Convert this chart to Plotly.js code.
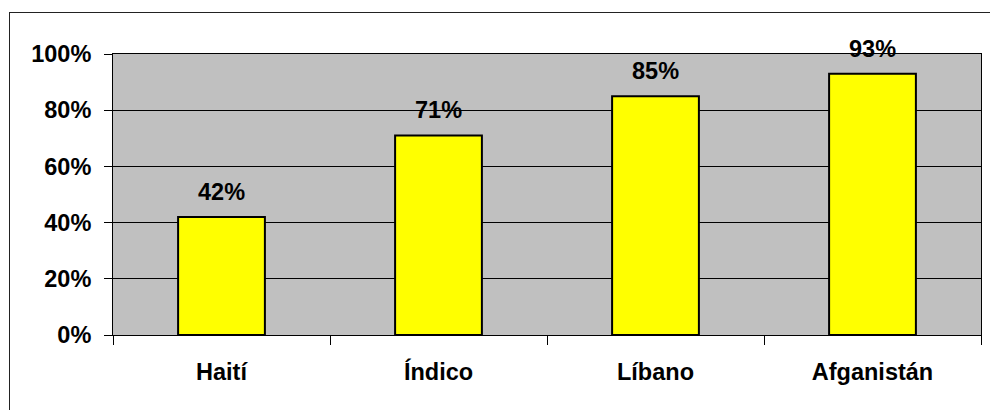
<!DOCTYPE html>
<html>
<head>
<meta charset="utf-8">
<script src="https://cdn.plot.ly/plotly-3.0.1.min.js"></script>
<style>
html,body{margin:0;padding:0;background:#fff;}
#wrap{position:relative;width:990px;height:410px;overflow:hidden;}
#chart{width:990px;height:410px;}
#frame{position:absolute;left:9px;top:12px;width:1000px;height:420px;border:1.5px solid #222;pointer-events:none;box-sizing:border-box;}
</style>
</head>
<body>
<div id="wrap"><div id="chart"></div><div id="frame"></div></div>
<script>
var categories = ["Haití", "Índico", "Líbano", "Afganistán"];
var values = [42, 71, 85, 93];
var labels = ["42%", "71%", "85%", "93%"];
var yTickVals = [0, 20, 40, 60, 80, 100];
var yTickText = ["0%", "20%", "40%", "60%", "80%", "100%"];

var font = {family: "Arial, 'Liberation Sans', sans-serif", size: 23.5, color: "#000"};

var trace = {
  type: "bar",
  x: categories,
  y: values,
  width: 0.4,
  marker: {color: "#ffff00", line: {color: "#000", width: 2}},
  hoverinfo: "none"
};

var annotations = categories.map(function(c, i){
  return {x: c, y: values[i], text: "<b>" + labels[i] + "</b>", showarrow: false,
          yanchor: "bottom", yshift: 10, font: font};
});

var layout = {
  width: 990, height: 410,
  margin: {l: 113, r: 9, t: 54, b: 75},
  paper_bgcolor: "#fff",
  plot_bgcolor: "#c0c0c0",
  showlegend: false,
  font: font,
  xaxis: {
    type: "category",
    tickson: "boundaries",
    ticks: "outside", ticklen: 9, tickcolor: "#000", tickwidth: 1,
    showline: true, linecolor: "#000", linewidth: 1, mirror: true,
    showgrid: false, zeroline: false,
    tickvals: categories,
    ticktext: categories.map(function(c){return "<b>" + c + "</b>";}),
    tickfont: font,
    ticklabelstandoff: 16
  },
  yaxis: {
    range: [0, 100],
    tickvals: yTickVals,
    ticktext: yTickText.map(function(t){return "<b>" + t + "</b>";}),
    ticks: "outside", ticklen: 8, tickcolor: "#000", tickwidth: 1,
    showline: true, linecolor: "#000", linewidth: 1, mirror: true,
    showgrid: true, gridcolor: "#000", gridwidth: 1,
    zeroline: false,
    tickfont: font,
    ticklabelstandoff: 8,
    fixedrange: true
  },
  annotations: annotations
};

Plotly.newPlot("chart", [trace], layout, {staticPlot: true});
</script>
</body>
</html>
